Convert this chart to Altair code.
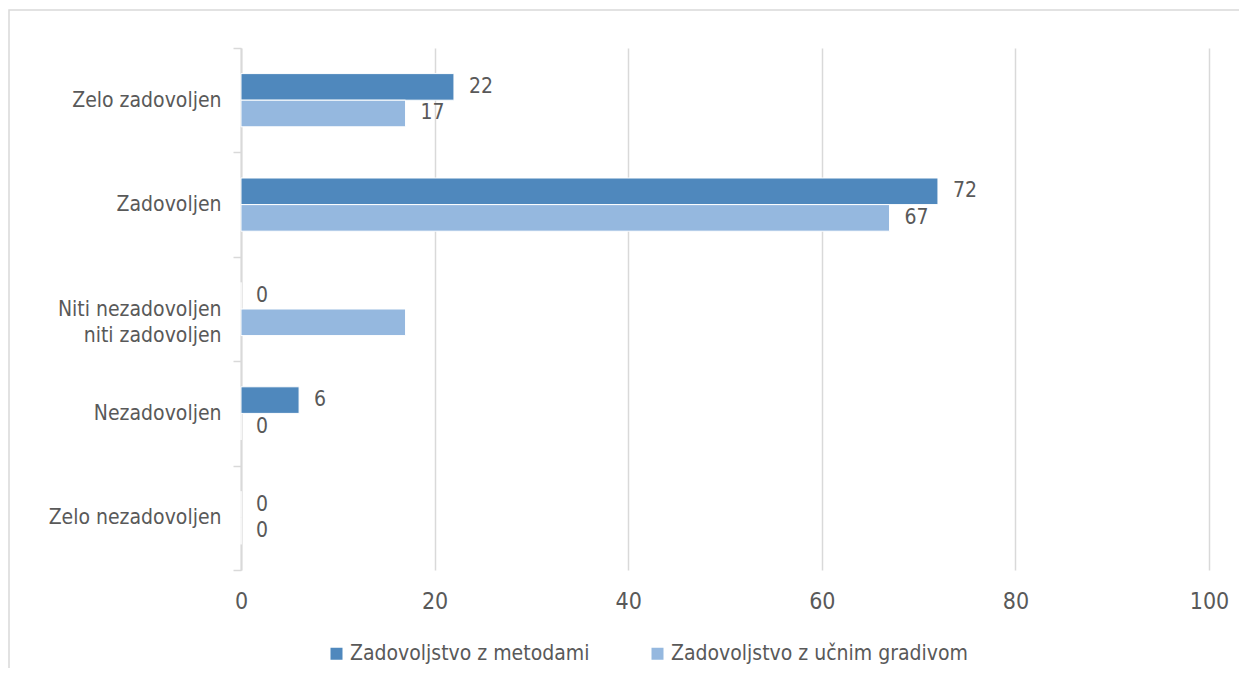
import altair as alt
import pandas as pd

categories = ["Zelo zadovoljen", "Zadovoljen", "Niti nezadovoljen niti zadovoljen",
              "Nezadovoljen", "Zelo nezadovoljen"]
series = ["Zadovoljstvo z metodami", "Zadovoljstvo z učnim gradivom"]
metode = [22, 72, 0, 6, 0]
gradivo = [17, 67, 17, 0, 0]
# value labels as shown (the 17 of the middle light bar carries no label)
metode_labels = ["22", "72", "0", "6", "0"]
gradivo_labels = ["17", "67", None, "0", "0"]
x_ticks = [0, 20, 40, 60, 80, 100]
colors = ["#4F88BD", "#95B8DF"]

rows = []
for i, c in enumerate(categories):
    rows.append({"cat": c, "series": series[0], "value": metode[i], "label": metode_labels[i]})
    rows.append({"cat": c, "series": series[1], "value": gradivo[i], "label": gradivo_labels[i]})
df = pd.DataFrame(rows)

FONT = "DejaVu Sans Condensed"
GRAY = "#595959"
LINE = "#D9D9D9"

y_enc = alt.Y(
    "cat:N", sort=categories, title=None,
    scale=alt.Scale(paddingInner=0, paddingOuter=0),
    axis=alt.Axis(
        labelExpr="datum.label == 'Niti nezadovoljen niti zadovoljen' ? ['Niti nezadovoljen', 'niti zadovoljen'] : datum.label",
        labelFont=FONT, labelFontSize=21, labelColor=GRAY, labelLineHeight=26,
        labelPadding=12, tickSize=8, tickBand="extent", tickColor=LINE, tickWidth=1.5,
        domainColor=LINE, domainWidth=2, grid=False, labelLimit=400,
    ),
)
yoff_scale = alt.Scale(paddingInner=0, paddingOuter=0.9625)

x_enc = alt.X(
    "value:Q", title=None,
    scale=alt.Scale(domain=[0, 100], nice=False),
    axis=alt.Axis(values=x_ticks, labelFont=FONT, labelFontSize=23, labelColor=GRAY,
                  labelPadding=20, labelFlush=False, ticks=False, domain=False, grid=True,
                  gridColor=LINE, gridWidth=1.5),
)

bars = alt.Chart(df).mark_bar(stroke="white", strokeWidth=1).encode(
    x=x_enc,
    y=y_enc,
    yOffset=alt.YOffset("series:N", sort=series, scale=yoff_scale),
    color=alt.Color(
        "series:N", sort=series,
        scale=alt.Scale(domain=series, range=colors),
        legend=alt.Legend(
            title=None, orient="none", legendX=85, legendY=595, direction="horizontal",
            symbolType="square", symbolSize=144, symbolStrokeWidth=0,
            labelFont=FONT, labelFontSize=21, labelColor=GRAY, labelOffset=3,
            columnPadding=57, labelLimit=500,
        ),
    ),
)

texts = alt.Chart(df).transform_filter("datum.label != null").mark_text(
    align="left", baseline="middle", dx=15, font=FONT, fontSize=21, color=GRAY
).encode(
    x=alt.X("value:Q"),
    y=alt.Y("cat:N", sort=categories),
    yOffset=alt.YOffset("series:N", sort=series, scale=yoff_scale),
    text="label:N",
)

border = alt.Chart(pd.DataFrame({"a": [0]})).mark_rect(
    fillOpacity=0, stroke=LINE, strokeWidth=1.5
).encode(
    x=alt.value(-232), x2=alt.value(1200), y=alt.value(-38), y2=alt.value(900)
)

chart = alt.layer(border, bars, texts).properties(
    width=968, height=522,
    autosize=alt.AutoSizeParams(type="none"),
    padding={"left": 233, "top": 40, "right": 30, "bottom": 98},
).configure_view(stroke=None)

chart.save("out.html", embed_options={"renderer": "svg", "actions": False})
